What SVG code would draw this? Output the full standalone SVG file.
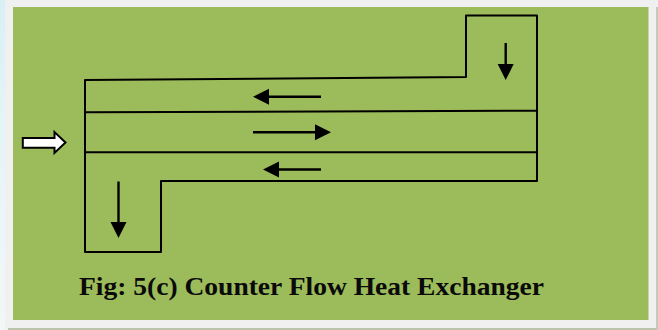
<svg xmlns="http://www.w3.org/2000/svg" width="658" height="330" viewBox="0 0 658 330">
<style>
.l{fill:none;stroke:#000;stroke-width:2;stroke-linejoin:round;stroke-linecap:round}
.s{fill:none;stroke:#000;stroke-width:2.400}
.h{fill:#000;stroke:none}
.t{font-family:"Liberation Serif",serif;font-weight:bold;font-size:26px;fill:#0a0a0a}
</style>
<defs>
<linearGradient id="side" x1="0" y1="0" x2="0" y2="1">
<stop offset="0" stop-color="#d8f0f4"/><stop offset="0.35" stop-color="#e4f4f7"/><stop offset="1" stop-color="#f2f7f8"/>
</linearGradient>
</defs>
<rect id="page" width="658" height="330" fill="#f0f0f0"/>
<rect id="edge" width="5" height="330" fill="url(#side)"/>
<rect x="8" y="328" width="650" height="2" fill="#b9c4a8"/>
<rect x="656" y="7" width="2" height="323" fill="#c4cab8"/>
<rect id="panel-bg" x="13" y="7" width="635.500" height="313" fill="#9cbb5a"/>
<g id="exchanger">
<path class="l" d="M85 80 L466 77 V15.500 H537 V181 H161 V252 H85 Z"/>
<path class="l" d="M85 112.300 L537 110.700"/>
<path class="l" d="M85 152.300 H537"/>
</g>
<g id="connectors">
<path class="s" d="M321 96.700 H266"/><polygon class="h" points="253,96.700 269,88.700 269,104.700"/>
<path class="s" d="M253 132.300 H318"/><polygon class="h" points="331,132.300 315,124.300 315,140.300"/>
<path class="s" d="M321 169.500 H276"/><polygon class="h" points="263,169.500 279,161.500 279,177.500"/>
<path class="s" d="M505.700 43 V67"/><polygon class="h" points="505.700,80 497.700,64 513.700,64"/>
<path class="s" d="M118.500 181.500 V225"/><polygon class="h" points="118.500,238 110.500,222 126.500,222"/>
</g>
<g id="inlet-arrow">
<polygon points="22.800,138 54.500,138 54.500,132 65.500,142.500 54.500,153 54.500,147.800 22.800,147.800" fill="#fff" stroke="#000" stroke-width="2"/>
</g>
<g id="caption">
<text class="t" x="79" y="295" textLength="465" lengthAdjust="spacingAndGlyphs">Fig: 5(c) Counter Flow Heat Exchanger</text>
</g>
</svg>
